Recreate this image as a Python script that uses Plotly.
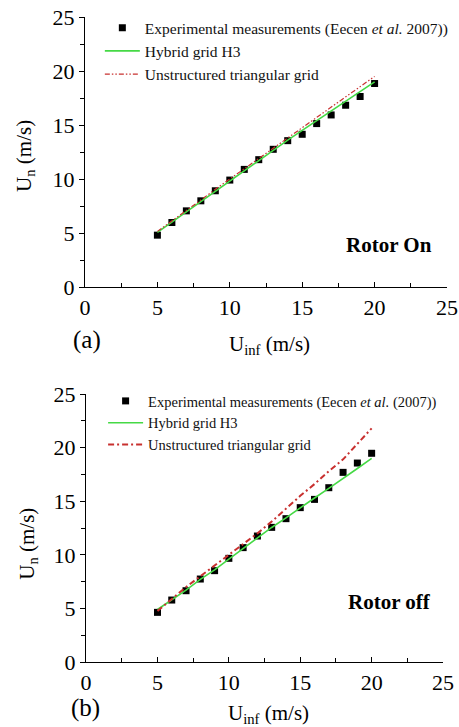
import plotly.graph_objects as go

# ---- data ----
u_inf = [5, 6, 7, 8, 9, 10, 11, 12, 13, 14, 15, 16, 17, 18, 19, 20]

# (a) Rotor On
on_exp = [4.8, 5.97, 7.05, 7.98, 8.91, 9.9, 10.89, 11.79, 12.75, 13.55, 14.14, 15.13, 15.93, 16.83, 17.64, 18.84]
on_hybrid = [5.05, 6.0, 7.0, 7.95, 8.9, 9.85, 10.8, 11.75, 12.7, 13.6, 14.5, 15.4, 16.3, 17.2, 18.1, 19.0]
on_unstr = [5.15, 6.1, 7.1, 8.05, 9.05, 10.0, 11.0, 11.95, 12.9, 13.85, 14.8, 15.75, 16.7, 17.6, 18.55, 19.5]

# (b) Rotor off
off_exp = [4.63, 5.78, 6.65, 7.74, 8.52, 9.67, 10.67, 11.75, 12.56, 13.37, 14.4, 15.17, 16.26, 17.69, 18.56, 19.47]
off_hybrid = [4.9, 5.8, 6.7, 7.7, 8.6, 9.6, 10.6, 11.6, 12.55, 13.45, 14.4, 15.3, 16.2, 17.1, 18.05, 19.0]
off_unstr = [4.75, 5.9, 7.0, 8.0, 9.0, 10.0, 11.0, 12.0, 13.1, 14.3, 15.5, 16.6, 17.8, 18.9, 20.3, 21.8]

axis_ticks = [0, 5, 10, 15, 20, 25]
exp_name_a = "Experimental measurements (Eecen <i>et al.</i> 2007))"
exp_name_b = "Experimental measurements (Eecen <i>et al.</i> (2007))"
hyb_name = "Hybrid grid H3"
uns_name = "Unstructured triangular grid"

SERIF = "Liberation Serif, Times New Roman, serif"
GREEN = "#45d945"
RED = "#c8302f"

fig = go.Figure()

# panel a
fig.add_trace(go.Scatter(x=u_inf, y=on_exp, mode="markers", name=exp_name_a,
                         marker=dict(symbol="square", size=7, color="black"),
                         xaxis="x", yaxis="y", legend="legend"))
fig.add_trace(go.Scatter(x=u_inf, y=on_hybrid, mode="lines", name=hyb_name,
                         line=dict(color=GREEN, width=1.6),
                         xaxis="x", yaxis="y", legend="legend"))
fig.add_trace(go.Scatter(x=u_inf, y=on_unstr, mode="lines", name=uns_name,
                         line=dict(color=RED, width=1.2, dash="5px,2px,1.5px,2px,1.5px,2px"),
                         xaxis="x", yaxis="y", legend="legend"))
# panel b
fig.add_trace(go.Scatter(x=u_inf, y=off_exp, mode="markers", name=exp_name_b,
                         marker=dict(symbol="square", size=7, color="black"),
                         xaxis="x2", yaxis="y2", legend="legend2"))
fig.add_trace(go.Scatter(x=u_inf, y=off_hybrid, mode="lines", name=hyb_name,
                         line=dict(color=GREEN, width=1.6),
                         xaxis="x2", yaxis="y2", legend="legend2"))
fig.add_trace(go.Scatter(x=u_inf, y=off_unstr, mode="lines", name=uns_name,
                         line=dict(color=RED, width=2, dash="6px,3px,2px,3px"),
                         xaxis="x2", yaxis="y2", legend="legend2"))

def xax(domain, anchor):
    return dict(domain=domain, anchor=anchor, range=[0, 25], tickvals=axis_ticks,
                showline=True, linecolor="black", linewidth=1.3, showgrid=False,
                zeroline=False, ticks="inside", ticklen=5, tickcolor="black",
                tickfont=dict(family=SERIF, size=22, color="black"),
                minor=dict(dtick=2.5, ticks="inside", ticklen=4, tickcolor="black"))

def yax(domain, anchor):
    return dict(domain=domain, anchor=anchor, range=[0, 25], tickvals=axis_ticks,
                showline=True, linecolor="black", linewidth=1.3, showgrid=False,
                zeroline=False, ticks="outside", ticklen=5, tickcolor="black",
                tickfont=dict(family=SERIF, size=22, color="black"),
                minor=dict(dtick=2.5, ticks="outside", ticklen=4, tickcolor="black"))

legend_common = dict(bgcolor="rgba(0,0,0,0)", itemwidth=35, tracegroupgap=0,
                     xanchor="left", yanchor="top")

fig.update_layout(
    width=459, height=727,
    margin=dict(l=85, r=12, t=17, b=65, autoexpand=False),
    paper_bgcolor="white", plot_bgcolor="white",
    xaxis=xax([0, 1], "y"),
    yaxis=yax([0.5814, 1], "x"),
    xaxis2=xax([0.003, 0.989], "y2"),
    yaxis2=yax([0, 0.4155], "x2"),
    legend=dict(x=0.041, y=1.009, font=dict(family=SERIF, size=15.5, color="#111"), **legend_common),
    legend2=dict(x=0.05, y=0.4295, font=dict(family=SERIF, size=14.5, color="#111"), **legend_common),
    showlegend=True,
)

ann_font = dict(family=SERIF, size=21, color="black")
annotations = [
    dict(text="U<sub>n</sub> (m/s)", x=-0.166, y=0.7845, textangle=-90, font=ann_font),
    dict(text="U<sub>n</sub> (m/s)", x=-0.158, y=0.183, textangle=-90, font=ann_font),
    dict(text="U<sub>inf</sub> (m/s)", x=0.511, y=0.492, font=ann_font),
    dict(text="U<sub>inf</sub> (m/s)", x=0.508, y=-0.081, font=ann_font),
    dict(text="(a)", x=0.0055, y=0.499, font=dict(family=SERIF, size=25, color="black")),
    dict(text="(b)", x=0.0, y=-0.0713, font=dict(family=SERIF, size=25, color="black")),
    dict(text="<b>Rotor On</b>", x=0.840, y=0.6465, font=ann_font),
    dict(text="<b>Rotor off</b>", x=0.840, y=0.093, font=ann_font),
]
for a in annotations:
    fig.add_annotation(xref="paper", yref="paper", showarrow=False,
                       xanchor="center", yanchor="middle", **a)

fig.write_html("out.html")
